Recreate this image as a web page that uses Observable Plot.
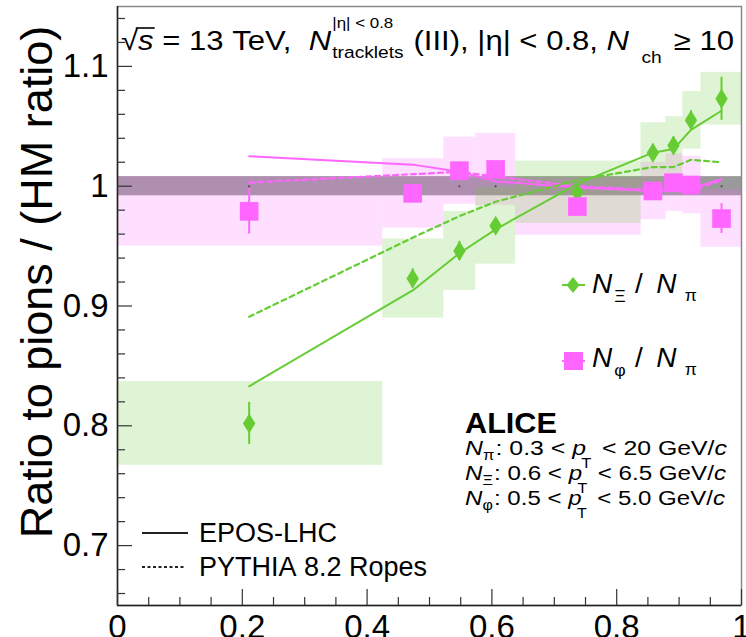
<!DOCTYPE html>
<html><head><meta charset="utf-8">
<script src="https://cdn.jsdelivr.net/npm/d3@7"></script>
<script src="https://cdn.jsdelivr.net/npm/@observablehq/plot@0.6"></script>
<style>
body{margin:0;background:#fff;}
#wrap{position:relative;width:746px;height:637px;overflow:hidden;font-family:"Liberation Sans",Arial,sans-serif;}
#overlay{position:absolute;left:0;top:0;pointer-events:none;}
</style></head><body><div id="wrap"></div>
<script>
// ---------- data ----------
const xDomain = [0, 1];
const yDomain = [0.65, 1.15];
const xMajor = [0, 0.2, 0.4, 0.6, 0.8, 1];
const yMajor = [0.7, 0.8, 0.9, 1, 1.1];
// multiplicity class positions (x) and bin edges of the systematic boxes
const ptX   = [0.211, 0.473, 0.548, 0.606, 0.737, 0.858, 0.891, 0.919, 0.968];
const binLo = [0.000, 0.425, 0.523, 0.574, 0.638, 0.839, 0.879, 0.906, 0.935];
const binHi = [0.425, 0.523, 0.574, 0.638, 0.839, 0.879, 0.906, 0.935, 1.000];
// N_Xi / N_pi
const xiVal  = [0.802, 0.923, 0.946, 0.967, 0.995, 1.028, 1.034, 1.055, 1.073];
const xiStat = [0.0175, 0.008, 0.008, 0.006, 0.006, 0.007, 0.007, 0.008, 0.018];
const xiSys  = [0.035, 0.033, 0.033, 0.032, 0.026, 0.025, 0.024, 0.024, 0.022];
// N_phi / N_pi
const phiVal  = [0.979, 0.994, 1.013, 1.014, 0.983, 0.996, 1.003, 1.001, 0.973];
const phiStat = [0.019, 0.005, 0.005, 0.005, 0.005, 0.005, 0.005, 0.005, 0.0125];
const phiSys  = [0.029, 0.029, 0.028, 0.030, 0.024, 0.024, 0.024, 0.024, 0.024];
// models
const eposXi    = [0.833, 0.913, 0.944, 0.964, 1.002, 1.028, 1.031, 1.047, 1.063];
const pythiaXi  = [0.891, 0.957, 0.975, 0.987, 1.005, 1.016, 1.016, 1.022, 1.020];
const eposPhi   = [1.025, 1.018, 1.012, 1.004, 0.999, 0.996, 0.997, 0.998, 1.006];
const pythiaPhi = [1.003, 1.010, 1.012, 1.008, 1.000, 0.997, 0.997, 0.996, 1.005];
// HM reference (ratio = 1) and its uncertainty band
const refLevel = 1;
const hmBand = [0.992, 1.008];

const GREEN = "#66cc33", PINK = "#ff66ff";
const W = 746, H = 637, ML = 117, MR = 5, MT = 6, MB = 32;
const PW = W - ML - MR, PH = H - MT - MB;

const xi  = ptX.map((x, i) => ({x, lo: binLo[i], hi: binHi[i], y: xiVal[i], stat: xiStat[i], sys: xiSys[i]}));
const phi = ptX.map((x, i) => ({x, lo: binLo[i], hi: binHi[i], y: phiVal[i], stat: phiStat[i], sys: phiSys[i]}));
const line = (arr) => ptX.map((x, i) => ({x, y: arr[i]}));

const round = v => Math.round(v * 1000) / 1000;
const yMinor = d3.range(0.66, 1.15, 0.02).map(round).filter(v => !yMajor.some(m => Math.abs(m - v) < 1e-6));
const xMinor = d3.range(0.05, 1, 0.05).map(round).filter(v => !xMajor.some(m => Math.abs(m - v) < 1e-6));

const tallDiamond = {
  draw(ctx, size) {
    const r = Math.sqrt(size / Math.PI);
    ctx.moveTo(0, -r); ctx.lineTo(0.62 * r, 0); ctx.lineTo(0, r); ctx.lineTo(-0.62 * r, 0); ctx.closePath();
  }
};

const chart = Plot.plot({
  width: W, height: H,
  marginLeft: ML, marginRight: MR, marginTop: MT, marginBottom: MB,
  x: {domain: xDomain},
  y: {domain: yDomain},
  style: {fontFamily: "Liberation Sans, Arial, sans-serif", color: "black", background: "white"},
  marks: [
    Plot.rect([hmBand], {y1: d => d[0], y2: d => d[1], fill: "#9a9a9a"}),
    Plot.rect(phi, {x1: "lo", x2: "hi", y1: d => d.y - d.sys, y2: d => d.y + d.sys, fill: PINK, fillOpacity: 0.21}),
    Plot.rect(xi,  {x1: "lo", x2: "hi", y1: d => d.y - d.sys, y2: d => d.y + d.sys, fill: GREEN, fillOpacity: 0.21}),
    Plot.dot(ptX, {x: d => d, y: () => refLevel, r: 1, fill: "#444", stroke: null}),
    Plot.line(line(eposPhi),   {x: "x", y: "y", stroke: PINK, strokeWidth: 2}),
    Plot.line(line(pythiaPhi), {x: "x", y: "y", stroke: PINK, strokeWidth: 2.2, strokeDasharray: "5,4"}),
    Plot.line(line(eposXi),    {x: "x", y: "y", stroke: GREEN, strokeWidth: 2}),
    Plot.line(line(pythiaXi),  {x: "x", y: "y", stroke: GREEN, strokeWidth: 2.2, strokeDasharray: "5,4"}),
    Plot.ruleX(xi,  {x: "x", y1: d => d.y - d.stat, y2: d => d.y + d.stat, stroke: GREEN, strokeWidth: 2}),
    Plot.ruleX(phi, {x: "x", y1: d => d.y - d.stat, y2: d => d.y + d.stat, stroke: PINK, strokeWidth: 2}),
    Plot.dot(xi,  {x: "x", y: "y", symbol: tallDiamond, r: 10, fill: GREEN, stroke: null}),
    Plot.dot(phi, {x: "x", y: "y", symbol: "square", r: 10.5, fill: PINK, stroke: null}),
    Plot.frame({stroke: "#8a8a8a", strokeWidth: 1.5}),
    Plot.ruleX([xDomain[0]], {stroke: "#222", strokeWidth: 1.5}),
    Plot.ruleY([yDomain[0]], {stroke: "#222", strokeWidth: 1.5}),
    Plot.tickY(yMinor, {y: d => d, insetRight: PW - 8, stroke: "#333", strokeWidth: 1.2}),
    Plot.tickY(yMajor, {y: d => d, insetRight: PW - 15, stroke: "#333", strokeWidth: 1.2}),
    Plot.tickX(xMinor, {x: d => d, insetTop: PH - 8, stroke: "#333", strokeWidth: 1.2}),
    Plot.tickX(xMajor, {x: d => d, insetTop: PH - 16, stroke: "#333", strokeWidth: 1.2}),
    Plot.axisY(yMajor, {tickSize: 0, tickPadding: 9, fontSize: 33, label: null, tickFormat: d3.format("")}),
    Plot.axisX(xMajor, {tickSize: 0, tickPadding: 9, fontSize: 33, label: null, tickFormat: d3.format("")})
  ]
});
const wrap = document.getElementById("wrap");
wrap.appendChild(chart);

// ---------- overlay annotations ----------
const ov = d3.select(wrap).append("svg").attr("id", "overlay").attr("width", W).attr("height", H)
  .attr("font-family", "Liberation Sans, Arial, sans-serif");

const nb = s => s.replace(/ /g, "\u00A0");
function put(g, p, x, base) {
  const t = g.append("text").attr("x", x).attr("y", p.dy || 0)
    .attr("font-size", p.s || base)
    .attr("font-style", p.it ? "italic" : null)
    .attr("font-weight", p.b ? "bold" : null)
    .text(nb(p.t));
  const w = t.node().getComputedTextLength();
  if (p.over) g.append("line").attr("x1", x - 2).attr("x2", x + w + 1).attr("y1", -22).attr("y2", -22).attr("stroke", "black").attr("stroke-width", 1.6);
  return w;
}
// lays out parts at the origin of a group, then stretches the group horizontally to a target width
function block(x0, y0, parts, base, target) {
  const g = ov.append("g");
  let x = 0;
  for (const p of parts) {
    if (p.stack) {
      let w = 0;
      for (const q of p.stack) w = Math.max(w, put(g, q, x, base));
      x += w + (p.gap || 0);
    } else {
      x += put(g, p, x, base) + (p.gap || 0);
    }
  }
  const sx = target ? target / x : 1;
  g.attr("transform", `translate(${x0},${y0}) scale(${sx},1)`);
  return g;
}

// header
block(121, 50, [
  {t: "√"}, {t: "s", it: true, over: true}, {t: " = 13 TeV,  "}, {t: "N", it: true, gap: 1},
  {stack: [{t: "|η| < 0.8", s: 15, dy: -22}, {t: "tracklets", s: 17, dy: 8}], gap: 1},
  {t: " (III), |η| < 0.8, "}, {t: "N", it: true, gap: 11}, {t: "ch", s: 17, dy: 13, gap: 3}, {t: " ≥ 10"}
], 27.5, 613);

// y title
ov.append("text").attr("transform", "translate(52,282) rotate(-90)").attr("text-anchor", "middle")
  .attr("font-size", 45).text("Ratio to pions / (HM ratio)");

// legend: data series
ov.append("line").attr("x1", 562).attr("x2", 585).attr("y1", 285).attr("y2", 285).attr("stroke", GREEN).attr("stroke-width", 2);
ov.append("path").attr("d", "M573,277L579.5,285L573,293L566.5,285Z").attr("fill", GREEN);
block(592, 293, [{t: "N", it: true, gap: 2}, {t: "Ξ", s: 17, dy: 9, gap: 9}, {t: "/", gap: 13}, {t: "N", it: true, gap: 8}, {t: "π", s: 17, dy: 8}], 27, 105);
ov.append("line").attr("x1", 562).attr("x2", 585).attr("y1", 361).attr("y2", 361).attr("stroke", PINK).attr("stroke-width", 2);
ov.append("rect").attr("x", 564).attr("y", 352).attr("width", 19).attr("height", 18).attr("fill", PINK);
block(592, 367, [{t: "N", it: true, gap: 2}, {t: "φ", s: 17, dy: 9, gap: 9}, {t: "/", gap: 13}, {t: "N", it: true, gap: 8}, {t: "π", s: 17, dy: 8}], 27, 105);

// ALICE block
block(465, 433, [{t: "ALICE", b: true}], 29, 92);
const ptLine = (sym) => [{t: "N", it: true}, {t: sym, s: 14, dy: 5, gap: 1}, {t: ": "}];
const tail = (lo, hi) => [{t: lo + " < "}, {t: "p", it: true, gap: -4}, {t: "T", s: 14, dy: 13, gap: 9}, {t: "< " + hi + " GeV/"}, {t: "c", it: true}];
block(465, 455, [...ptLine("π"), ...tail("0.3", "20")], 21, 262);
block(465, 480, [...ptLine("Ξ"), ...tail("0.6", "6.5")], 21, 261);
block(465, 505, [...ptLine("φ"), ...tail("0.5", "5.0")], 21, 260);

// legend: models
ov.append("line").attr("x1", 142).attr("x2", 188).attr("y1", 533).attr("y2", 533).attr("stroke", "#222").attr("stroke-width", 2);
ov.append("line").attr("x1", 142).attr("x2", 186).attr("y1", 567).attr("y2", 567).attr("stroke", "#222").attr("stroke-width", 2).attr("stroke-dasharray", "3,2.5");
block(199, 542, [{t: "EPOS-LHC"}], 27);
block(199, 576, [{t: "PYTHIA 8.2 Ropes"}], 27);
</script></body></html>
